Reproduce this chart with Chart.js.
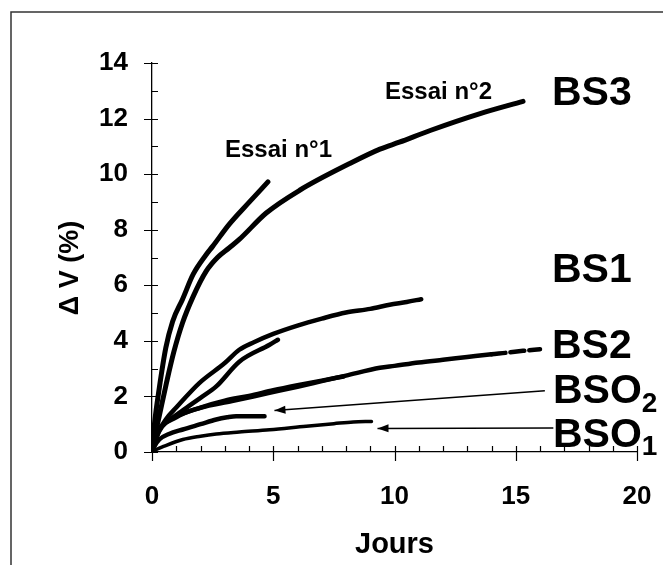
<!DOCTYPE html>
<html>
<head>
<meta charset="utf-8">
<script src="https://cdn.jsdelivr.net/npm/chart.js@4/dist/chart.umd.min.js"></script>
<style>
  html, body { margin: 0; padding: 0; background: #fff; overflow: hidden; }
  #wrap { width: 663px; height: 565px; position: relative; }
  canvas { display: block; }
</style>
</head>
<body>
<div id="wrap"><canvas id="c" width="663" height="565"></canvas></div>
<script>
// ---- Data ----
const xTicks = [0, 5, 10, 15, 20];
const yTicks = [0, 2, 4, 6, 8, 10, 12, 14];

const bs3Essai1X = [0, 0.1, 0.3, 0.57, 0.85, 1.26, 1.7, 2.23, 2.5, 3.19, 4.02, 4.78];
const bs3Essai1Y = [0, 1.0, 2.3, 3.75, 4.7, 5.5, 6.4, 7.1, 7.4, 8.2, 9.0, 9.72];

const bs3Essai2X = [0, 0.1, 0.3, 0.6, 0.9, 1.26, 1.7, 2.23, 2.7, 3.19, 3.6, 4.71, 6.09, 8.15, 9.4, 10.2, 11.5, 13.5, 15.3];
const bs3Essai2Y = [0, 0.5, 1.3, 2.5, 3.6, 4.65, 5.6, 6.5, 7.0, 7.35, 7.65, 8.6, 9.42, 10.38, 10.9, 11.15, 11.58, 12.17, 12.62];

const bs1LongX = [0, 0.2, 0.57, 1, 1.95, 3, 3.6, 4.2, 5, 6, 7, 8, 9, 9.8, 10.5, 11.1];
const bs1LongY = [0, 0.6, 1.17, 1.6, 2.48, 3.2, 3.68, 3.95, 4.25, 4.55, 4.8, 5.02, 5.15, 5.3, 5.4, 5.5];

const bs1ShortX = [0, 0.3, 0.8, 1.27, 2.0, 2.65, 3.6, 4.85, 5.19];
const bs1ShortY = [0, 0.8, 1.2, 1.5, 1.95, 2.36, 3.25, 3.86, 4.04];

const bs2LongX = [0, 0.1, 0.3, 0.6, 1, 2, 3.3, 4.8, 6, 7, 8, 9.4, 10, 11, 12, 13, 14, 14.6, 15.3, 16];
const bs2LongY = [0, 0.4, 0.81, 1.1, 1.29, 1.59, 1.83, 2.12, 2.35, 2.55, 2.75, 3.03, 3.1, 3.22, 3.32, 3.42, 3.52, 3.57, 3.64, 3.7];

const bs2ShortX = [0, 0.3, 1, 2, 3, 4, 5, 6, 7, 7.9];
const bs2ShortY = [0, 0.75, 1.25, 1.6, 1.85, 2.02, 2.22, 2.4, 2.57, 2.72];

const bso2X = [0, 0.1, 0.3, 0.7, 1.27, 2, 2.65, 3.1, 3.47, 4, 4.64];
const bso2Y = [0, 0.2, 0.45, 0.65, 0.81, 1.0, 1.17, 1.25, 1.29, 1.29, 1.29];

const bso1X = [0, 0.2, 0.47, 1.27, 2, 2.65, 3.6, 4.85, 6.36, 7.5, 8.3, 9.05];
const bso1Y = [0, 0.1, 0.2, 0.45, 0.57, 0.65, 0.72, 0.8, 0.93, 1.02, 1.08, 1.1];

// arrows: [tail, head]
const arrowBSO2X = [16.2, 5.05];
const arrowBSO2Y = [2.2, 1.49];
const arrowBSO1X = [16.55, 9.3];
const arrowBSO1Y = [0.86, 0.85];

const curveLabels = ["BS3", "BS1", "BS2", "BSO", "BSO"];
const essaiLabels = ["Essai n°1", "Essai n°2"];
const xTitle = "Jours";
const yTitle = "Δ V (%)";

// ---- helpers ----
function pts(xs, ys) { return xs.map((x, i) => ({ x: x, y: ys[i] })); }
const FONT = "'Liberation Sans', Arial, Helvetica, sans-serif";

function curve(label, xs, ys, w, extra) {
  return Object.assign({
    label: label,
    data: pts(xs, ys),
    showLine: true,
    borderColor: '#000',
    backgroundColor: '#000',
    borderWidth: w,
    pointRadius: 0,
    pointHoverRadius: 0,
    cubicInterpolationMode: 'monotone',
    borderCapStyle: 'round',
    borderJoinStyle: 'round',
    fill: false
  }, extra || {});
}

const datasets = [
  curve('BS3 Essai n°1', bs3Essai1X, bs3Essai1Y, 5),
  curve('BS3 Essai n°2', bs3Essai2X, bs3Essai2Y, 5),
  curve('BS1 a', bs1LongX, bs1LongY, 4.5),
  curve('BS1 b', bs1ShortX, bs1ShortY, 4.5),
  curve('BS2 a', bs2LongX, bs2LongY, 4.5, {
    segment: { borderDash: ctx => (ctx.p0.parsed.x >= 14 ? [14, 5] : undefined) }
  }),
  curve('BS2 b', bs2ShortX, bs2ShortY, 4.5),
  curve('BSO2', bso2X, bso2Y, 4.5),
  curve('BSO1', bso1X, bso1Y, 3.5),
  curve('arrow BSO2', arrowBSO2X, arrowBSO2Y, 1.5, { cubicInterpolationMode: 'default', borderCapStyle: 'butt', isArrow: true }),
  curve('arrow BSO1', arrowBSO1X, arrowBSO1Y, 1.5, { cubicInterpolationMode: 'default', borderCapStyle: 'butt', isArrow: true })
];

const decor = {
  id: 'decor',
  beforeDraw(chart) {
    const ctx = chart.ctx;
    ctx.save();
    ctx.fillStyle = '#fff';
    ctx.fillRect(0, 0, chart.width, chart.height);
    // outer frame (top and left edges visible)
    ctx.strokeStyle = '#333';
    ctx.lineWidth = 1.5;
    ctx.beginPath();
    ctx.moveTo(11, chart.height + 2);
    ctx.lineTo(11, 12);
    ctx.lineTo(chart.width + 2, 12);
    ctx.stroke();
    ctx.restore();
  },
  afterDraw(chart) {
    const ctx = chart.ctx;
    const xs = chart.scales.x, ys = chart.scales.y;
    const x0 = xs.getPixelForValue(0), y0 = ys.getPixelForValue(0);
    ctx.save();
    ctx.strokeStyle = '#000';
    ctx.lineWidth = 1.2;
    ctx.beginPath();
    for (let v = 0; v <= 14; v++) {
      const y = Math.round(ys.getPixelForValue(v)) + 0.5;
      const major = v % 2 === 0;
      ctx.moveTo(major ? x0 - 8 : x0, y);
      ctx.lineTo(x0 + 6, y);
    }
    for (let v = 0; v <= 20; v++) {
      const x = Math.round(xs.getPixelForValue(v)) + 0.5;
      const major = v % 5 === 0;
      ctx.moveTo(x, y0 - 6);
      ctx.lineTo(x, major ? y0 + 9 : y0);
    }
    ctx.stroke();

    // arrow heads
    chart.data.datasets.forEach((ds, i) => {
      if (!ds.isArrow) return;
      const meta = chart.getDatasetMeta(i);
      const p1 = meta.data[0], p2 = meta.data[1];
      const ang = Math.atan2(p2.y - p1.y, p2.x - p1.x);
      const L = 11, W = 4;
      ctx.fillStyle = '#000';
      ctx.beginPath();
      ctx.moveTo(p2.x, p2.y);
      ctx.lineTo(p2.x - L * Math.cos(ang) + W * Math.sin(ang), p2.y - L * Math.sin(ang) - W * Math.cos(ang));
      ctx.lineTo(p2.x - L * Math.cos(ang) - W * Math.sin(ang), p2.y - L * Math.sin(ang) + W * Math.cos(ang));
      ctx.closePath();
      ctx.fill();
    });

    // y axis title
    ctx.fillStyle = '#000';
    ctx.save();
    ctx.translate(71, 268);
    ctx.rotate(-Math.PI / 2);
    ctx.textAlign = 'center';
    ctx.textBaseline = 'middle';
    ctx.font = 'bold 27px ' + FONT;
    ctx.fillText(yTitle, 0, 0);
    ctx.restore();

    // curve labels
    ctx.textAlign = 'left';
    ctx.textBaseline = 'alphabetic';
    ctx.font = 'bold 41px ' + FONT;
    ctx.fillText(curveLabels[0], 552, 105);
    ctx.fillText(curveLabels[1], 552, 282);
    ctx.fillText(curveLabels[2], 552, 358);
    ctx.fillText(curveLabels[3], 553, 403);
    ctx.fillText(curveLabels[4], 553, 447);
    const wBSO = ctx.measureText('BSO').width;
    ctx.font = 'bold 28px ' + FONT;
    ctx.fillText('2', 553 + wBSO, 412);
    ctx.fillText('1', 553 + wBSO, 455);

    ctx.font = 'bold 24px ' + FONT;
    ctx.fillText(essaiLabels[0], 225, 157);
    ctx.fillText(essaiLabels[1], 385, 99);
    ctx.restore();
  }
};

new Chart(document.getElementById('c'), {
  type: 'scatter',
  data: { datasets: datasets },
  plugins: [decor],
  options: {
    responsive: false,
    animation: false,
    events: [],
    layout: { padding: { left: 0, right: 26, top: 63, bottom: 0 } },
    plugins: { legend: { display: false }, tooltip: { enabled: false } },
    scales: {
      x: {
        type: 'linear',
        min: 0, max: 20,
        afterFit(s) { s.height = 113; },
        afterBuildTicks(s) { s.ticks = xTicks.map(v => ({ value: v })); },
        grid: { display: false, drawTicks: true, tickLength: 29 },
        border: { display: true, color: '#000', width: 1.3 },
        ticks: { color: '#000', padding: 0, font: { family: FONT, size: 26, weight: 'bold' }, maxRotation: 0 },
        title: { display: true, text: xTitle, color: '#000', font: { family: FONT, size: 29, weight: 'bold' }, padding: { top: 0, bottom: 3 } }
      },
      y: {
        type: 'linear',
        min: 0, max: 14,
        afterFit(s) { s.width = 152; },
        afterBuildTicks(s) { s.ticks = yTicks.map(v => ({ value: v })); },
        grid: { display: false, drawTicks: true, tickLength: 24 },
        border: { display: true, color: '#000', width: 1.3 },
        ticks: { color: '#000', padding: 0, font: { family: FONT, size: 26, weight: 'bold' } },
        title: { display: false }
      }
    }
  }
});
</script>
</body>
</html>
